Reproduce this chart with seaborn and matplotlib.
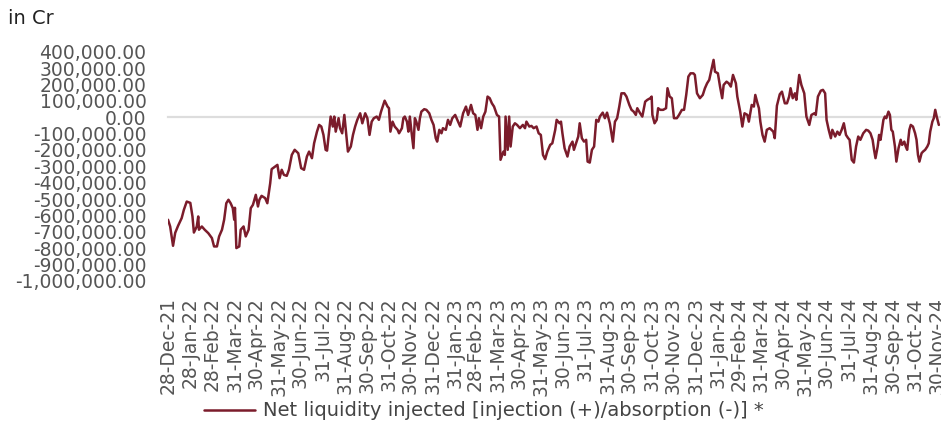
import numpy as np
import pandas as pd
import matplotlib
matplotlib.use("Agg")
import matplotlib.pyplot as plt
import matplotlib.ticker as mticker
import seaborn as sns

# x-axis labels (month ends shown on the chart)
tick_labels = [
    '28-Dec-21', '28-Jan-22', '28-Feb-22', '31-Mar-22', '30-Apr-22', '31-May-22',
    '30-Jun-22', '31-Jul-22', '31-Aug-22', '30-Sep-22', '31-Oct-22', '30-Nov-22',
    '31-Dec-22', '31-Jan-23', '28-Feb-23', '31-Mar-23', '30-Apr-23', '31-May-23',
    '30-Jun-23', '31-Jul-23', '31-Aug-23', '30-Sep-23', '31-Oct-23', '30-Nov-23',
    '31-Dec-23', '31-Jan-24', '29-Feb-24', '31-Mar-24', '30-Apr-24', '31-May-24',
    '30-Jun-24', '31-Jul-24', '31-Aug-24', '30-Sep-24', '31-Oct-24', '30-Nov-24',
]

# observation dates, one line per month
obs_dates = [
    '2021-12-28', '2021-12-31',
    '2022-01-04', '2022-01-07', '2022-01-11', '2022-01-16', '2022-01-19', '2022-01-23', '2022-01-28', '2022-01-31',
    '2022-02-02', '2022-02-06', '2022-02-08', '2022-02-09', '2022-02-13', '2022-02-17', '2022-02-22', '2022-02-27',
    '2022-03-02', '2022-03-06', '2022-03-09', '2022-03-13', '2022-03-16', '2022-03-19', '2022-03-22', '2022-03-25', '2022-03-28', '2022-03-30', '2022-03-31',
    '2022-04-02', '2022-04-06', '2022-04-08', '2022-04-12', '2022-04-15', '2022-04-19', '2022-04-22', '2022-04-25', '2022-04-29',
    '2022-05-02', '2022-05-04', '2022-05-07', '2022-05-12', '2022-05-15', '2022-05-19', '2022-05-21', '2022-05-26', '2022-05-29',
    '2022-06-01', '2022-06-04', '2022-06-07', '2022-06-11', '2022-06-14', '2022-06-18', '2022-06-22', '2022-06-27',
    '2022-07-01', '2022-07-05', '2022-07-09', '2022-07-12', '2022-07-16', '2022-07-19', '2022-07-23', '2022-07-26', '2022-07-29',
    '2022-08-01', '2022-08-04', '2022-08-06', '2022-08-09', '2022-08-11', '2022-08-14', '2022-08-16', '2022-08-18', '2022-08-22', '2022-08-24', '2022-08-27', '2022-08-30',
    '2022-09-01', '2022-09-04', '2022-09-08', '2022-09-11', '2022-09-14', '2022-09-17', '2022-09-21', '2022-09-24', '2022-09-28',
    '2022-10-01', '2022-10-04', '2022-10-07', '2022-10-10', '2022-10-14', '2022-10-17', '2022-10-20', '2022-10-23', '2022-10-25', '2022-10-29', '2022-10-31',
    '2022-11-02', '2022-11-05', '2022-11-08', '2022-11-12', '2022-11-14', '2022-11-18', '2022-11-20', '2022-11-22', '2022-11-25', '2022-11-27', '2022-11-29',
    '2022-12-01', '2022-12-04', '2022-12-06', '2022-12-08', '2022-12-11', '2022-12-13', '2022-12-15', '2022-12-19', '2022-12-22', '2022-12-26', '2022-12-29',
    '2023-01-01', '2023-01-04', '2023-01-06', '2023-01-09', '2023-01-12', '2023-01-14', '2023-01-18', '2023-01-21', '2023-01-24', '2023-01-27', '2023-01-31',
    '2023-02-03', '2023-02-07', '2023-02-11', '2023-02-15', '2023-02-18', '2023-02-22', '2023-02-25', '2023-02-28',
    '2023-03-03', '2023-03-05', '2023-03-08', '2023-03-11', '2023-03-14', '2023-03-17', '2023-03-20', '2023-03-23', '2023-03-26', '2023-03-30',
    '2023-04-02', '2023-04-04', '2023-04-08', '2023-04-10', '2023-04-11', '2023-04-14', '2023-04-16', '2023-04-18', '2023-04-21', '2023-04-24', '2023-04-27',
    '2023-05-01', '2023-05-05', '2023-05-08', '2023-05-10', '2023-05-14', '2023-05-17', '2023-05-20', '2023-05-24', '2023-05-27', '2023-05-30',
    '2023-06-02', '2023-06-05', '2023-06-08', '2023-06-12', '2023-06-15', '2023-06-19', '2023-06-21', '2023-06-25', '2023-06-27', '2023-06-29',
    '2023-07-02', '2023-07-06', '2023-07-09', '2023-07-13', '2023-07-15', '2023-07-18', '2023-07-21', '2023-07-23', '2023-07-26', '2023-07-29',
    '2023-08-01', '2023-08-03', '2023-08-06', '2023-08-09', '2023-08-12', '2023-08-15', '2023-08-18', '2023-08-20', '2023-08-24', '2023-08-27', '2023-08-30',
    '2023-09-03', '2023-09-07', '2023-09-10', '2023-09-13', '2023-09-16', '2023-09-19', '2023-09-23', '2023-09-26', '2023-09-30',
    '2023-10-03', '2023-10-06', '2023-10-09', '2023-10-11', '2023-10-15', '2023-10-18', '2023-10-22', '2023-10-25', '2023-10-29', '2023-10-31',
    '2023-11-01', '2023-11-04', '2023-11-07', '2023-11-09', '2023-11-12', '2023-11-16', '2023-11-20', '2023-11-22', '2023-11-25', '2023-11-28',
    '2023-12-01', '2023-12-05', '2023-12-08', '2023-12-12', '2023-12-15', '2023-12-18', '2023-12-21', '2023-12-24', '2023-12-28', '2023-12-30',
    '2024-01-02', '2024-01-06', '2024-01-10', '2024-01-13', '2024-01-16', '2024-01-19', '2024-01-22', '2024-01-25', '2024-01-27', '2024-01-31',
    '2024-02-03', '2024-02-06', '2024-02-08', '2024-02-12', '2024-02-15', '2024-02-18', '2024-02-21', '2024-02-25', '2024-02-27',
    '2024-03-02', '2024-03-05', '2024-03-08', '2024-03-12', '2024-03-14', '2024-03-18', '2024-03-21', '2024-03-23', '2024-03-26', '2024-03-28', '2024-03-30',
    '2024-04-02', '2024-04-05', '2024-04-08', '2024-04-12', '2024-04-17', '2024-04-19', '2024-04-22', '2024-04-26', '2024-04-29',
    '2024-05-03', '2024-05-06', '2024-05-09', '2024-05-11', '2024-05-14', '2024-05-17', '2024-05-19', '2024-05-23', '2024-05-26', '2024-05-30',
    '2024-06-02', '2024-06-06', '2024-06-09', '2024-06-13', '2024-06-15', '2024-06-18', '2024-06-22', '2024-06-25', '2024-06-28', '2024-06-30',
    '2024-07-03', '2024-07-06', '2024-07-08', '2024-07-12', '2024-07-15', '2024-07-18', '2024-07-21', '2024-07-24', '2024-07-27', '2024-07-30',
    '2024-08-01', '2024-08-04', '2024-08-07', '2024-08-10', '2024-08-13', '2024-08-16', '2024-08-20', '2024-08-24', '2024-08-27', '2024-08-30',
    '2024-09-02', '2024-09-04', '2024-09-06', '2024-09-09', '2024-09-11', '2024-09-13', '2024-09-17', '2024-09-19', '2024-09-21', '2024-09-24', '2024-09-26', '2024-09-28', '2024-09-30',
    '2024-10-03', '2024-10-05', '2024-10-08', '2024-10-11', '2024-10-13', '2024-10-16', '2024-10-18', '2024-10-20', '2024-10-23', '2024-10-25', '2024-10-28', '2024-10-31',
    '2024-11-02', '2024-11-04', '2024-11-06', '2024-11-09', '2024-11-11', '2024-11-14', '2024-11-17', '2024-11-19', '2024-11-21', '2024-11-24', '2024-11-26', '2024-11-28', '2024-11-30',
    '2024-12-03',
]

# net liquidity, thousand crore (same line layout as obs_dates)
net_liquidity_k = [
    -626, -667,
    -785, -706, -663, -616, -566, -515, -523, -606,
    -704, -667, -606, -687, -667, -687, -708, -738,
    -789, -789, -728, -687, -626, -525, -504, -525, -555, -626, -553,
    -799, -789, -687, -667, -728, -687, -555, -535, -474,
    -545, -504, -480, -494, -525, -403, -317, -301, -291,
    -372, -321, -352, -358, -321, -230, -199, -220,
    -311, -321, -240, -210, -250, -159, -88, -47, -57,
    -108, -199, -204, -77, 4, -57, 4, -88, -6, -67, -98, 14,
    -77, -210, -179, -108, -57, -16, 24, -37, 24,
    -6, -108, -27, -6, 4, -16, 34, 75, 101, 65, 55,
    -88, -27, -57, -77, -98, -67, -6, 4, -27, -88, 4,
    -77, -189, -6, -27, -77, -6, 34, 49, 45, 24, -16,
    -47, -128, -149, -77, -98, -67, -77, -16, -47, -6, 14,
    -16, -57, 24, 65, 14, 75, 24, 14,
    -77, -6, -67, 4, 34, 126, 116, 85, 65, 14,
    4, -260, -210, -230, 4, -199, 4, -179, -57, -37, -47,
    -67, -47, -67, -27, -57, -53, -67, -57, -98, -108,
    -230, -256, -210, -169, -159, -77, -16, -37, -27, -98,
    -189, -240, -179, -149, -199, -159, -118, -37, -128, -149,
    -138, -271, -277, -199, -179, -16, -27, 4, 28, -6, 28,
    -40, -149, -27, -6, 65, 146, 146, 126, 75,
    45, 34, 14, 55, 24, 4, 95, 106, 116, 126,
    14, -37, -16, 55, 45, 45, 55, 177, 126, 116,
    -6, -6, 14, 45, 45, 136, 248, 268, 268, 258,
    146, 116, 136, 177, 207, 228, 289, 350, 278, 268,
    187, 116, 197, 217, 207, 187, 258, 207, 126,
    34, -57, 24, 14, -27, 75, 65, 136, 85, 55, -27,
    -108, -149, -77, -67, -88, -128, 70, 140, 156,
    85, 85, 126, 177, 116, 146, 106, 258, 197, 146,
    4, -47, 14, 24, 14, 126, 162, 167, 146, -16,
    -77, -128, -77, -118, -88, -108, -77, -37, -108, -128,
    -138, -260, -277, -179, -118, -138, -98, -77, -82, -98,
    -138, -199, -250, -179, -108, -138, -16, 4, -6, 34, 14, -77, -88,
    -179, -271, -189, -138, -169, -149, -179, -199, -77, -47, -57, -98,
    -138, -230, -271, -220, -210, -199, -179, -159, -88, -27, -6, 45, 4,
    -47,
]

series_label = "Net liquidity injected [injection (+)/absorption (-)] *"
y_ticks = list(range(-1000000, 400001, 100000))

assert len(obs_dates) == len(net_liquidity_k)

df = pd.DataFrame({
    "date": pd.to_datetime(obs_dates),
    "value": np.array(net_liquidity_k) * 1000,
})
tick_dates = pd.to_datetime(tick_labels, format="%d-%b-%y")

sns.set_style("white")
plt.rcParams["font.family"] = ["DejaVu Sans"]
plt.rcParams["axes.unicode_minus"] = False

W, H = 941, 428
fig = plt.figure(figsize=(W / 100, H / 100), dpi=100)
ax = fig.add_axes([168 / W, 1 - 281 / H, 1 - 168 / W, (281 - 51.7) / H])

sns.lineplot(data=df, x="date", y="value", color="#7b1c2b", linewidth=1.8,
             ax=ax, label=series_label, legend=False, zorder=3)

ax.set_ylim(-1000000, 400000)
ax.set_xlim(tick_dates[0], tick_dates[-1] + pd.Timedelta(days=6))
ax.set_xlabel("")
ax.set_ylabel("")

# y axis: no spine, comma formatted labels
ax.set_yticks(y_ticks)
ax.yaxis.set_major_formatter(mticker.FuncFormatter(lambda v, p: f"{v:,.2f}"))
ax.tick_params(axis="y", length=0, pad=15.5, labelsize=13.5, labelcolor="#555555")

# x axis drawn on the zero line, labels pushed down below the plot
for s in ["top", "right", "left"]:
    ax.spines[s].set_visible(False)
ax.spines["bottom"].set_position(("data", 0))
ax.spines["bottom"].set_color("#dddddd")
ax.spines["bottom"].set_linewidth(1.6)
ax.set_xticks(tick_dates)
ax.set_xticklabels(tick_labels, rotation=90)
ax.tick_params(axis="x", direction="inout", length=8, width=1.6, color="#dddddd",
               pad=125.5, labelsize=13.5, labelcolor="#555555")

fig.text(8 / W, 1 - 9 / H, "in Cr", fontsize=14, color="#222222", ha="left", va="top")

fig.legend(handles=ax.lines[:1], labels=[series_label], loc="center",
           bbox_to_anchor=(484 / W, 1 - 411 / H), frameon=False, fontsize=14,
           handlelength=2.6, handletextpad=0.4, labelcolor="#444444")

fig.savefig("out.png", dpi=100)
